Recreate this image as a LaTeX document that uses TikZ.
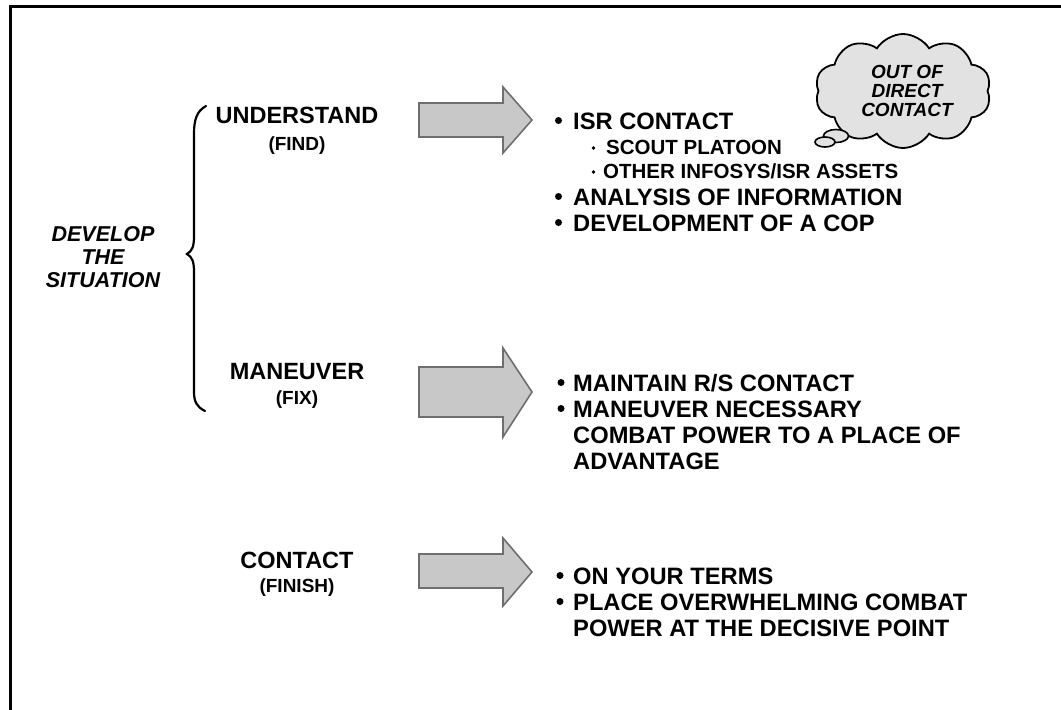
\documentclass[tikz,border=0pt]{standalone}
\usepackage{fontspec}
\setmainfont{Liberation Sans}
\usetikzlibrary{shapes.symbols,shapes.geometric}
\definecolor{arrowfill}{HTML}{C8C8C8}
\definecolor{arrowline}{HTML}{6E6E6E}
\definecolor{cloudfill}{HTML}{E2E2E2}
\tikzset{
  bigarrow/.style={fill=arrowfill,draw=arrowline,line width=1.6pt,line join=miter},
  lbl/.style={font=\fontsize{23.5}{26}\selectfont\bfseries,anchor=base,inner sep=0pt},
  sublbl/.style={font=\fontsize{19}{22}\selectfont\bfseries,anchor=base,inner sep=0pt},
  item/.style={font=\fontsize{23.7}{26}\selectfont\bfseries,anchor=base west,inner sep=0pt},
  subitem/.style={font=\fontsize{20.5}{24}\selectfont\bfseries,anchor=base west,inner sep=0pt},
  dot/.style={circle,fill=black,minimum size=7pt,inner sep=0pt},
  smalldot/.style={circle,fill=black,minimum size=3.8pt,inner sep=0pt},
  side/.style={font=\fontsize{21.5}{23}\selectfont\bfseries\itshape,anchor=base,inner sep=0pt},
  thought/.style={font=\fontsize{19}{19}\selectfont\bfseries\itshape,align=center,inner sep=0pt},
}
\begin{document}
\begin{tikzpicture}[x=1pt,y=-1pt]
\useasboundingbox (0,0) rectangle (1061,710);
% frame (top and left only)
\draw[line width=3pt] (10.5,710) -- (10.5,6.5) -- (1061,6.5);

% brace
\draw[line width=2.2pt,line cap=round]
  (206,106) .. controls (197,111) and (194,119) .. (194,134)
  -- (194,236) .. controls (194,247) and (192,251) .. (187,254)
  .. controls (192,257) and (194,261) .. (194,272)
  -- (194,392) .. controls (194,402) and (197,407) .. (205,411);

% left label
\node[side] (dev) at (103,241.7) {DEVELOP};
\node[side] (the) at (103,264.7) {THE};
\node[side] (sit) at (103,287.7) {SITUATION};

% stage labels
\node[lbl] (und) at (297,123.5) {UNDERSTAND};
\node[sublbl] (find) at (297,150) {(FIND)};
\node[lbl] (man) at (297,379.5) {MANEUVER};
\node[sublbl] (fix) at (297,404) {(FIX)};
\node[lbl] (con) at (297,568.5) {CONTACT};
\node[sublbl] (fin) at (297,592) {(FINISH)};

% arrows
\draw[bigarrow] (419,103) -- (503,103) -- (503,87) -- (532,120) -- (503,153) -- (503,137) -- (419,137) -- cycle;
\draw[bigarrow] (419,367) -- (503,367) -- (503,348) -- (532,392) -- (503,437) -- (503,417) -- (419,417) -- cycle;
\draw[bigarrow] (419,554) -- (503,554) -- (503,538) -- (532,572) -- (503,606) -- (503,588) -- (419,588) -- cycle;

% first list
\node[dot] (b1) at (558.5,120.5) {};
\node[item] (t1) at (573,129.5) {ISR CONTACT};
\node[smalldot] (s1) at (593.5,148) {};
\node[subitem] (u1) at (606,154.5) {SCOUT PLATOON};
\node[smalldot] (s2) at (593.5,172) {};
\node[subitem] (u2) at (603,178.5) {OTHER INFOSYS/ISR ASSETS};
\node[dot] (b2) at (558.5,196.5) {};
\node[item] (t2) at (573,205.5) {ANALYSIS OF INFORMATION};
\node[dot] (b3) at (558.5,222.5) {};
\node[item] (t3) at (573,231.5) {DEVELOPMENT OF A COP};

% second list
\node[dot] (b4) at (561,382.5) {};
\node[item] (t4) at (573,391.5) {MAINTAIN R/S CONTACT};
\node[dot] (b5) at (561,408.5) {};
\node[item] (t5) at (573,417.5) {MANEUVER NECESSARY};
\node[item] (t6) at (573,443.5) {COMBAT POWER TO A PLACE OF};
\node[item] (t7) at (573,469.5) {ADVANTAGE};

% third list
\node[dot] (b6) at (560,575.5) {};
\node[item] (t8) at (573,584.5) {ON YOUR TERMS};
\node[dot] (b7) at (560,601.5) {};
\node[item] (t9) at (573,610.5) {PLACE OVERWHELMING COMBAT};
\node[item] (t10) at (573,636.5) {POWER AT THE DECISIVE POINT};

% thought cloud
\node[cloud,cloud puffs=10,cloud puff arc=115,aspect=1.6,draw,line width=1.8pt,fill=cloudfill,
      minimum width=176pt,minimum height=114pt,inner sep=0pt] (cloud) at (903,91) {};
\node[thought] (ctext) at (907,91) {OUT OF\\DIRECT\\CONTACT};
\node[ellipse,draw,line width=1.6pt,fill=cloudfill,minimum width=25pt,minimum height=13pt,inner sep=0pt] (bub1) at (836,136) {};
\node[ellipse,draw,line width=1.6pt,fill=cloudfill,minimum width=20pt,minimum height=10pt,inner sep=0pt] (bub2) at (825,142) {};
\end{tikzpicture}
\end{document}
